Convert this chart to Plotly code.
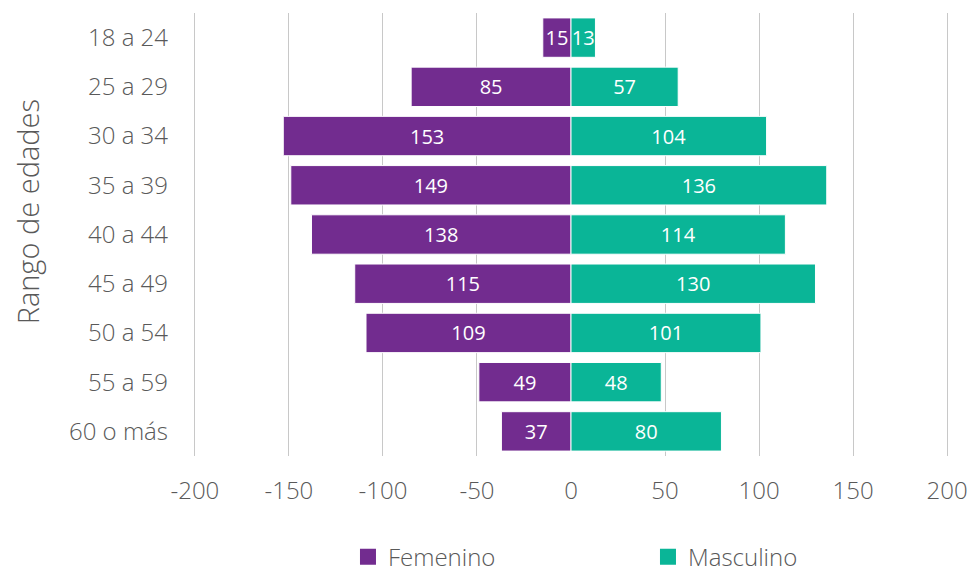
import plotly.graph_objects as go

# rangos de edad y conteos por sexo
rangos = ["18 a 24", "25 a 29", "30 a 34", "35 a 39", "40 a 44",
          "45 a 49", "50 a 54", "55 a 59", "60 o más"]
femenino = [15, 85, 153, 149, 138, 115, 109, 49, 37]
masculino = [13, 57, 104, 136, 114, 130, 101, 48, 80]
ejes_x = [-200, -150, -100, -50, 0, 50, 100, 150, 200]
ejes_x_txt = ["-200", "-150", "-100", "-50", "0", "50", "100", "150", "200"]

FONT = "Open Sans"
GRIS = "#595959"
MORADO = "#722C8F"
VERDE = "#0AB597"

fig = go.Figure()

fig.add_trace(go.Bar(
    y=rangos, x=[-v for v in femenino], orientation="h",
    name="Femenino", marker=dict(color=MORADO, line=dict(color="white", width=1)),
    text=femenino, textposition="inside", insidetextanchor="middle",
    textfont=dict(color="white", size=20, family=FONT, weight=400),
    constraintext="none", showlegend=False,
))

fig.add_trace(go.Bar(
    y=rangos, x=masculino, orientation="h",
    name="Masculino", marker=dict(color=VERDE, line=dict(color="white", width=1)),
    text=masculino, textposition="inside", insidetextanchor="middle",
    textfont=dict(color="white", size=20, family=FONT, weight=400),
    constraintext="none", showlegend=False,
))

# entradas de leyenda con cuadros mas grandes
for nombre, color in [("Femenino", MORADO), ("Masculino", VERDE)]:
    fig.add_trace(go.Scatter(
        x=[None], y=[None], mode="markers", name=nombre,
        marker=dict(symbol="square", size=18, color=color),
    ))

# la pagina agrega 8px de margen al body: figura un poco mas baja para que quepa
fig.update_layout(
    width=979, height=565,
    barmode="relative", bargap=0.2,
    plot_bgcolor="white", paper_bgcolor="white",
    margin=dict(l=185, r=38, t=5, b=117),
    font=dict(family=FONT, color=GRIS, size=24, weight=300),
    uniformtext=dict(minsize=20, mode="show"),
    legend=dict(orientation="h", x=0.205, y=0.028, xanchor="left", yanchor="middle",
                yref="container",
                entrywidth=255, entrywidthmode="pixels", itemsizing="trace",
                font=dict(size=24, color=GRIS, weight=300), traceorder="normal"),
    annotations=[dict(
        text="Rango de edades", textangle=-90, showarrow=False,
        xref="paper", yref="paper", x=0, y=0.55, xanchor="center", yanchor="middle",
        xshift=-166, font=dict(size=29, color=GRIS, weight=300),
    )],
)

fig.update_xaxes(
    range=[-201, 201], tickvals=ejes_x, ticktext=ejes_x_txt,
    showgrid=True, gridcolor="#C8C8C8", gridwidth=1,
    zeroline=True, zerolinecolor="white", zerolinewidth=1,
    showline=False, ticklabelstandoff=18, automargin=False,
    tickfont=dict(size=24, color=GRIS, weight=300),
)

fig.update_yaxes(
    autorange="reversed", showgrid=False, showline=False, automargin=False,
    ticklabelstandoff=24, tickfont=dict(size=24, color=GRIS, weight=300),
)

fig.write_html("out.html")
